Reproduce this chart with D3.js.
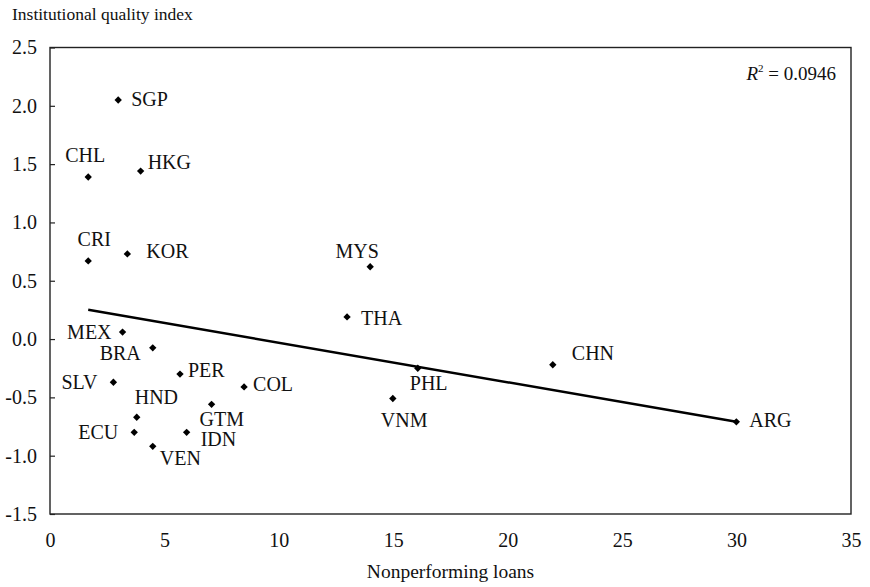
<!DOCTYPE html>
<html>
<head>
<meta charset="utf-8">
<script src="https://cdn.jsdelivr.net/npm/d3@7/dist/d3.min.js"></script>
<style>
  html, body { margin: 0; padding: 0; background: #fff; }
  svg { display: block; font-family: "Liberation Serif", "Times New Roman", serif; }
</style>
</head>
<body>
<svg id="chart" width="870" height="587"></svg>
<script>
// Country codes, nonperforming loans (x) and institutional quality index (y)
const countries = ["SGP","CHL","HKG","CRI","KOR","MEX","BRA","SLV","PER","COL","HND","GTM","ECU","IDN","VEN","MYS","THA","CHN","PHL","VNM","ARG"];
const nonperformingLoans = [2.98, 1.67, 3.96, 1.67, 3.38, 3.17, 4.49, 2.77, 5.68, 8.48, 3.79, 7.06, 3.68, 5.97, 4.49, 13.99, 12.98, 21.97, 16.07, 14.98, 29.99];
const qualityIndex = [2.05, 1.39, 1.44, 0.67, 0.73, 0.06, -0.075, -0.37, -0.30, -0.41, -0.67, -0.56, -0.80, -0.80, -0.92, 0.62, 0.19, -0.22, -0.25, -0.51, -0.71];

// Linear trend endpoints
const trendX = [1.67, 29.99];
const trendY = [0.251, -0.709];
const rSquared = "0.0946";

// Axis ticks
const xTicks = [0, 5, 10, 15, 20, 25, 30, 35];
const yTicks = [2.5, 2.0, 1.5, 1.0, 0.5, 0.0, -0.5, -1.0, -1.5];

// Label placement around each marker: [dx, dy, anchor]
const labelPlacement = {
  SGP: [13, 6, "start"],  CHL: [-3, -15, "middle"], HKG: [7, -2, "start"],
  CRI: [6, -15, "middle"], KOR: [19, 4, "start"],  MEX: [-11, 7, "end"],
  BRA: [-12, 12, "end"],  SLV: [-16, 7, "end"],   PER: [8, 3, "start"],
  COL: [9, 4, "start"],   HND: [-2, -13, "start"], GTM: [-12, 22, "start"],
  ECU: [-16, 7, "end"],   IDN: [14, 14, "start"],  VEN: [7, 19, "start"],
  MYS: [-13, -9, "middle"], THA: [14, 8, "start"], CHN: [19, -5, "start"],
  PHL: [-8, 22, "start"], VNM: [-12, 28, "start"], ARG: [13, 5, "start"]
};

const svg = d3.select("#chart");
const margin = { left: 50, right: 19, top: 47.5, bottom: 73 };
const W = 870, H = 587;

const x = d3.scaleLinear().domain([0, 35]).range([margin.left, W - margin.right]);
const y = d3.scaleLinear().domain([-1.5, 2.5]).range([H - margin.bottom, margin.top]);

const fontSize = 20;
const oneDecimal = d3.format(".1f");

// Plot frame
svg.append("rect")
  .attr("x", x(0)).attr("y", y(2.5))
  .attr("width", x(35) - x(0)).attr("height", y(-1.5) - y(2.5))
  .attr("fill", "none").attr("stroke", "#222").attr("stroke-width", 1.4);

// Y axis with inward ticks, plain hyphen for negatives
const yAxis = d3.axisLeft(y).tickValues(yTicks).tickSize(-5).tickPadding(13)
  .tickFormat(d => oneDecimal(d).replace("\u2212", "-"));
const gy = svg.append("g").attr("transform", `translate(${x(0)},0)`).call(yAxis);
gy.select(".domain").remove();
gy.selectAll("line").attr("stroke", "#222").attr("stroke-width", 1.2);
gy.selectAll("text").attr("font-size", fontSize).attr("fill", "#111")
  .attr("font-family", "Liberation Serif, serif");

// X axis labels (no tick marks)
const xAxis = d3.axisBottom(x).tickValues(xTicks).tickSize(0).tickPadding(19)
  .tickFormat(d3.format("d"));
const gx = svg.append("g").attr("transform", `translate(0,${y(-1.5)})`).call(xAxis);
gx.select(".domain").remove();
gx.selectAll("text").attr("font-size", fontSize).attr("fill", "#111")
  .attr("font-family", "Liberation Serif, serif");

// Axis titles
svg.append("text").attr("x", 12).attr("y", 20)
  .attr("font-size", 17.5).attr("fill", "#111")
  .text("Institutional quality index");
svg.append("text").attr("x", (x(0) + x(35)) / 2).attr("y", 578)
  .attr("text-anchor", "middle").attr("font-size", 19.5).attr("fill", "#111")
  .text("Nonperforming loans");

// Trend line
const trend = trendX.map((v, i) => [v, trendY[i]]);
svg.append("path")
  .attr("d", d3.line().x(d => x(d[0])).y(d => y(d[1]))(trend))
  .attr("fill", "none").attr("stroke", "#000").attr("stroke-width", 2.5);

// Markers (rotated squares)
const points = countries.map((c, i) => ({ c, vx: nonperformingLoans[i], vy: qualityIndex[i] }));
const marker = d3.symbol().type(d3.symbolSquare).size(27);
svg.append("g").selectAll("path").data(points).join("path")
  .attr("d", marker)
  .attr("transform", d => `translate(${x(d.vx)},${y(d.vy)}) rotate(45)`)
  .attr("fill", "#000");

// Country labels
svg.append("g").selectAll("text").data(points).join("text")
  .attr("x", d => x(d.vx) + labelPlacement[d.c][0])
  .attr("y", d => y(d.vy) + labelPlacement[d.c][1])
  .attr("text-anchor", d => labelPlacement[d.c][2])
  .attr("font-size", fontSize).attr("fill", "#111")
  .text(d => d.c);

// R-squared annotation
const r2 = svg.append("text").attr("x", 836).attr("y", 80)
  .attr("text-anchor", "end").attr("font-size", 19).attr("fill", "#111");
r2.append("tspan").attr("font-style", "italic").text("R");
r2.append("tspan").attr("font-size", 11).attr("dy", -8).text("2");
r2.append("tspan").attr("dy", 8).text(" = " + rSquared);
</script>
</body>
</html>
